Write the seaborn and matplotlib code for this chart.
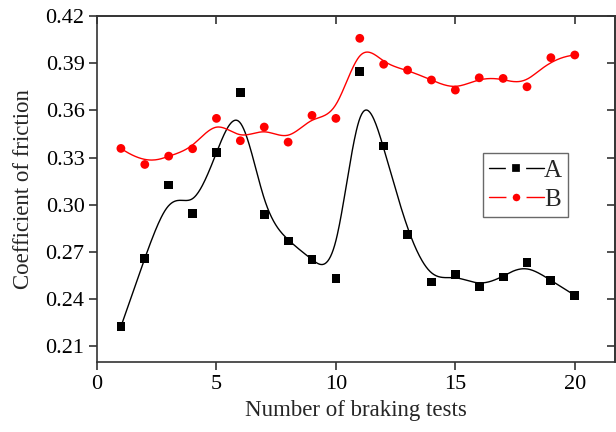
import numpy as np
import pandas as pd
import matplotlib
matplotlib.use("Agg")
import matplotlib.pyplot as plt
from matplotlib.lines import Line2D
import seaborn as sns

# braking test number and friction coefficients
tests = list(range(1, 21))
coef_a = [0.2225, 0.266, 0.3125, 0.2944, 0.3332, 0.3712, 0.2938, 0.277, 0.2652, 0.2533,
          0.3846, 0.3373, 0.2813, 0.2509, 0.2556, 0.248, 0.2541, 0.2635, 0.2516, 0.2424]
coef_b = [0.3358, 0.3256, 0.3309, 0.3356, 0.3549, 0.3407, 0.3494, 0.3398, 0.3568, 0.3549,
          0.4058, 0.3893, 0.3856, 0.3793, 0.3729, 0.3807, 0.3803, 0.375, 0.3935, 0.3952]
x_ticks = [0, 5, 10, 15, 20]
y_ticks = [0.21, 0.24, 0.27, 0.30, 0.33, 0.36, 0.39, 0.42]


def bspline(px, py, n_out=600, k=3):
    # clamped cubic B-spline using the data points as control points
    px = np.asarray(px, float)
    py = np.asarray(py, float)
    n = len(px)
    knots = np.concatenate([np.zeros(k), np.arange(n - k + 1), np.full(k, n - k)])
    t = np.linspace(0, n - k, n_out)
    t[-1] -= 1e-9
    B = np.zeros((n_out, len(knots) - 1))
    for i in range(len(knots) - 1):
        B[:, i] = (knots[i] <= t) & (t < knots[i + 1])
    for d in range(1, k + 1):
        Bn = np.zeros((n_out, len(knots) - 1 - d))
        for i in range(len(knots) - 1 - d):
            den1 = knots[i + d] - knots[i]
            den2 = knots[i + d + 1] - knots[i + 1]
            term = np.zeros(n_out)
            if den1 > 0:
                term += (t - knots[i]) / den1 * B[:, i]
            if den2 > 0:
                term += (knots[i + d + 1] - t) / den2 * B[:, i + 1]
            Bn[:, i] = term
        B = Bn
    return B @ px, B @ py


sns.set_style("ticks")
plt.rcParams['font.family'] = ['Liberation Serif', 'DejaVu Serif']

fig = plt.figure(figsize=(6.16, 4.32), dpi=100)
ax = fig.add_axes([0.1575, 0.162, 0.8415, 0.801])

df = pd.DataFrame({'test': tests, 'A': coef_a, 'B': coef_b})

for col, color, marker in [('A', 'black', 's'), ('B', '#ff0000', 'o')]:
    cx, cy = bspline(df['test'], df[col])
    sns.lineplot(x=cx, y=cy, sort=False, estimator=None, color=color, lw=1.0, ax=ax)
    sns.scatterplot(data=df, x='test', y=col, color=color, marker=marker, s=40,
                    edgecolor='none', ax=ax, zorder=3)

ax.set_xlim(0, 21.7)
ax.set_ylim(0.20, 0.42)
ax.set_xticks(x_ticks)
ax.set_yticks(y_ticks)
ax.set_yticklabels([f'{v:.2f}' for v in y_ticks])
ax.tick_params(axis='both', labelsize=16, colors='#333333', labelcolor='black',
               direction='out', length=6, width=1.2, pad=3)
for sp in ax.spines.values():
    sp.set_visible(True)
    sp.set_color('#333333')
    sp.set_linewidth(1.2)

# mirror ticks on top and right, pointing inward, no labels
top = ax.secondary_xaxis('top')
top.set_xticks(x_ticks)
top.tick_params(direction='in', length=6, width=1.2, colors='#333333', labeltop=False)
right = ax.secondary_yaxis('right')
right.set_yticks(y_ticks)
right.tick_params(direction='in', length=6, width=1.2, colors='#333333', labelright=False)
for sec in (top, right):
    for sp in sec.spines.values():
        sp.set_color('#333333')
        sp.set_linewidth(1.2)

ax.set_xlabel('Number of braking tests', fontsize=16.5, labelpad=5)
ax.set_ylabel('Coefficient of friction', fontsize=16.5, labelpad=8)

# legend handles: line broken around a small marker (white halo)
handles = [Line2D([], [], color=c, lw=1.0, marker=m, markersize=10, markeredgewidth=4.5,
                  markerfacecolor=c, markeredgecolor='white')
           for c, m in [('black', 's'), ('#ff0000', 'o')]]
leg = ax.legend(handles, ['A', 'B'], loc='upper left', bbox_to_anchor=(0.744, 0.604),
                fontsize=18, frameon=True, fancybox=False, edgecolor='#444444',
                handlelength=2.2, handletextpad=0.0, borderpad=0.25, labelspacing=0.25,
                borderaxespad=0, numpoints=1)
leg.get_frame().set_linewidth(1.0)

fig.savefig('out.png', dpi=100)
